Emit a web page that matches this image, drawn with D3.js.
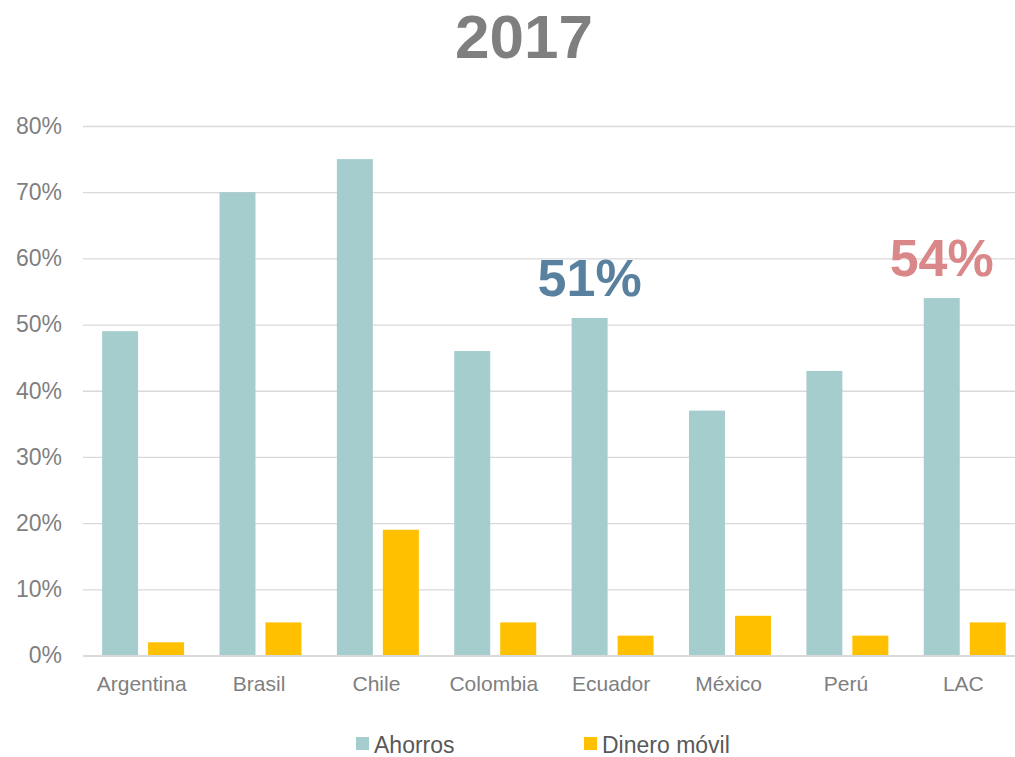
<!DOCTYPE html>
<html>
<head>
<meta charset="utf-8">
<script src="https://cdn.jsdelivr.net/npm/d3@7"></script>
<style>
  body { margin: 0; background: #fff; }
  svg { display: block; font-family: "Liberation Sans", Arial, sans-serif; }
</style>
</head>
<body>
<div class="chart"></div>
<script>
// data
var countries = ["Argentina", "Brasil", "Chile", "Colombia", "Ecuador", "México", "Perú", "LAC"];
var seriesNames = ["Ahorros", "Dinero móvil"];
var ahorros = [49, 70, 75, 46, 51, 37, 43, 54];
var dineroMovil = [2, 5, 19, 5, 3, 6, 3, 5];
var yTicks = [0, 10, 20, 30, 40, 50, 60, 70, 80];
var callouts = ["Ecuador", "LAC"];
var calloutColors = ["#58809f", "#d98788"];

var seriesColors = ["#a6cdcd", "#ffc000"];

var svgWidth = 1015;
var svgHeight = 757;

var svg = d3.select(".chart")
    .append("svg")
    .attr("width", svgWidth)
    .attr("height", svgHeight);

// rows for the grouped bars
var rows = countries.map(function(c, i) {
    return { country: c, values: [ahorros[i], dineroMovil[i]] };
});

// scales
var x = d3.scaleBand()
    .domain(countries)
    .range([83, 1022])
    .padding(0);

var xSub = d3.scaleBand()
    .domain(seriesNames)
    .range([0, x.bandwidth()])
    .paddingInner(10 / 46)
    .paddingOuter(0.385)
    .align(0.54);

var y = d3.scaleLinear()
    .domain([0, 80])
    .range([655.5, 126]);

// title
svg.append("text")
    .attr("x", 524)
    .attr("y", 58)
    .attr("text-anchor", "middle")
    .attr("font-size", 62)
    .attr("font-weight", "bold")
    .attr("fill", "#7f7f7f")
    .text("2017");

// gridlines + y labels
var yAxis = d3.axisLeft(y)
    .tickValues(yTicks)
    .tickSize(-(1022 - 83))
    .tickPadding(21)
    .tickFormat(function(d) { return d + "%"; });

var yG = svg.append("g")
    .attr("transform", "translate(83,0)")
    .call(yAxis);
yG.select(".domain").remove();
yG.selectAll(".tick line")
    .attr("stroke", "#d9d9d9")
    .attr("stroke-width", 1.3);
yG.selectAll(".tick text")
    .attr("font-size", 23)
    .attr("fill", "#7f7f7f")
    .attr("font-family", "Liberation Sans, Arial, sans-serif");

// bars
var groups = svg.selectAll(".country")
    .data(rows)
    .enter()
    .append("g")
    .attr("class", "country")
    .attr("transform", d => `translate(${x(d.country)},0)`);

groups.selectAll("rect")
    .data(d => d.values.map((v, i) => ({ name: seriesNames[i], value: v, idx: i })))
    .enter()
    .append("rect")
    .attr("x", d => xSub(d.name))
    .attr("y", d => y(d.value))
    .attr("width", xSub.bandwidth())
    .attr("height", d => y(0) - y(d.value))
    .attr("fill", d => seriesColors[d.idx]);

// x axis baseline + category labels
var xAxis = d3.axisBottom(x).tickSize(0).tickPadding(21);
var xG = svg.append("g")
    .attr("transform", `translate(0,${y(0)})`)
    .call(xAxis);
xG.select(".domain")
    .attr("stroke", "#d9d9d9")
    .attr("stroke-width", 2);
xG.selectAll(".tick text")
    .attr("font-size", 21)
    .attr("fill", "#7f7f7f")
    .attr("font-family", "Liberation Sans, Arial, sans-serif");

// big callout numbers over the Ahorros bar
callouts.forEach(function(c, i) {
    var v = ahorros[countries.indexOf(c)];
    svg.append("text")
        .attr("x", x(c) + xSub("Ahorros") + xSub.bandwidth() / 2)
        .attr("y", y(v) - 22)
        .attr("text-anchor", "middle")
        .attr("font-size", 52)
        .attr("font-weight", "bold")
        .attr("fill", calloutColors[i])
        .text(v + "%");
});

// legend
var legendX = [356, 584];
var legend = svg.selectAll(".legend")
    .data(seriesNames)
    .enter()
    .append("g")
    .attr("class", "legend")
    .attr("transform", (d, i) => `translate(${legendX[i]},737)`);

legend.append("rect")
    .attr("width", 13)
    .attr("height", 13)
    .attr("fill", (d, i) => seriesColors[i]);

legend.append("text")
    .attr("x", 18)
    .attr("y", 16)
    .attr("font-size", 23)
    .attr("fill", "#595959")
    .text(d => d);
</script>
</body>
</html>
